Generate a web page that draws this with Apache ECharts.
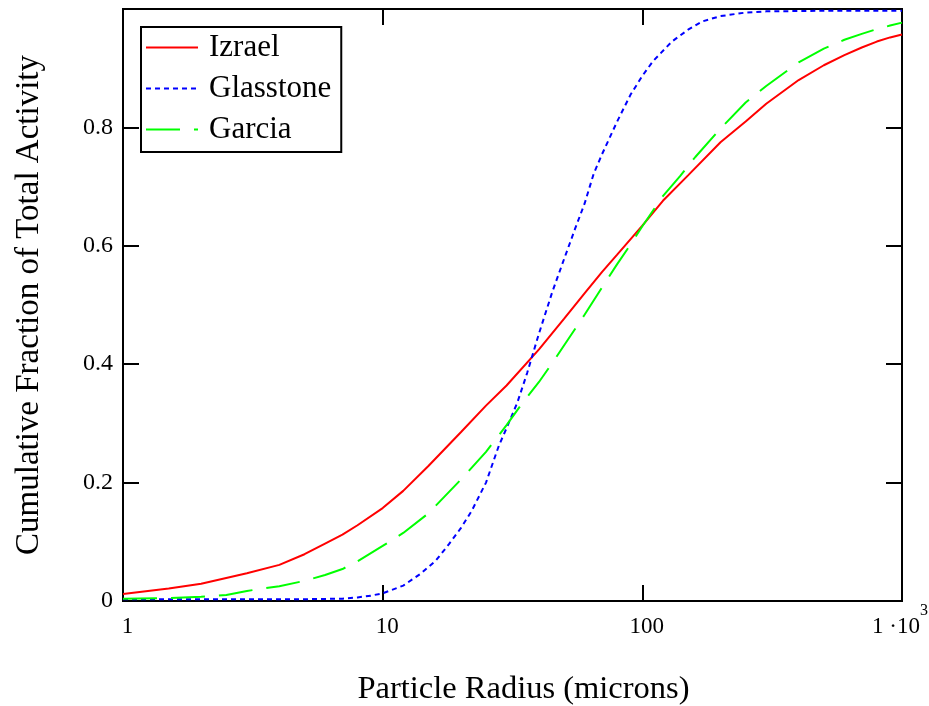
<!DOCTYPE html>
<html>
<head>
<meta charset="utf-8">
<title>Cumulative Fraction of Total Activity</title>
<script src="https://cdn.jsdelivr.net/npm/echarts@6/dist/echarts.min.js"></script>
<style>
  html, body { margin: 0; padding: 0; background: #fff; }
  #chart { width: 929px; height: 706px; }
</style>
</head>
<body>
<div id="chart"></div>
<script>
// particle radius (microns) and cumulative fraction
const izraelR = [1, 1.5, 2, 3, 4, 5, 6, 7, 8, 10, 12, 15, 20, 25, 30, 40, 50, 60, 70, 80, 100, 120, 150, 200, 250, 300, 400, 500, 600, 700, 800, 900, 1000];
const izraelF = [0.012, 0.021, 0.029, 0.047, 0.061, 0.079, 0.097, 0.112, 0.128, 0.157, 0.186, 0.228, 0.285, 0.330, 0.364, 0.425, 0.477, 0.520, 0.556, 0.585, 0.634, 0.676, 0.719, 0.775, 0.810, 0.840, 0.880, 0.905, 0.922, 0.935, 0.945, 0.952, 0.957];

const glasstoneR = [1, 2, 3, 5, 7, 8, 9, 10, 12, 14, 16, 18, 20, 22, 25, 28, 30, 33, 36, 40, 45, 50, 55, 60, 65, 70, 80, 90, 100, 110, 130, 150, 170, 200, 250, 300, 500, 1000];
const glasstoneF = [0.003, 0.003, 0.003, 0.003, 0.004, 0.006, 0.009, 0.013, 0.026, 0.046, 0.068, 0.096, 0.123, 0.152, 0.200, 0.262, 0.292, 0.335, 0.385, 0.452, 0.522, 0.578, 0.628, 0.672, 0.722, 0.755, 0.810, 0.855, 0.887, 0.912, 0.945, 0.965, 0.979, 0.988, 0.994, 0.996, 0.997, 0.997];

const garciaR = [1, 1.5, 2, 2.5, 3, 4, 5, 6, 7, 8, 10, 12, 15, 20, 25, 30, 35, 40, 45, 50, 60, 70, 80, 90, 100, 120, 140, 160, 200, 250, 300, 400, 500, 600, 700, 800, 900, 1000];
const garciaF = [0.004, 0.005, 0.007, 0.010, 0.017, 0.025, 0.034, 0.044, 0.054, 0.067, 0.093, 0.115, 0.148, 0.205, 0.252, 0.297, 0.338, 0.370, 0.402, 0.432, 0.484, 0.530, 0.569, 0.602, 0.633, 0.684, 0.718, 0.750, 0.798, 0.842, 0.870, 0.910, 0.933, 0.948, 0.958, 0.966, 0.972, 0.977];

const seriesNames = ["Izrael", "Glasstone", "Garcia"];
const yTicks = [0, 0.2, 0.4, 0.6, 0.8];

const FONT = "Liberation Serif";

const zip = (xs, ys) => xs.map((x, i) => [x, ys[i]]);

const chart = echarts.init(document.getElementById("chart"));

// x tick labels, 1000 gets the Mathcad style "1·10^3"
const xLabel = (v) => {
    if (Math.abs(v - 1000) < 1e-6) return "{c|1 \u00b710}{b|3}";
    return "{a|" + Math.round(v) + "}";
};

const insideTicks = () => ({ show: true, inside: true, length: 16, lineStyle: { color: "#000", width: 2 } });
const noLine = () => ({ show: false, onZero: false });

const option = {
    animation: false,
    backgroundColor: "#fff",
    textStyle: { fontFamily: FONT, color: "#000" },
    grid: {
        left: 123, right: 27, top: 9, bottom: 105,
        outerBoundsMode: "none",
        show: true, borderColor: "#000", borderWidth: 2
    },
    legend: {
        orient: "vertical",
        left: 141, top: 27,
        data: seriesNames,
        itemWidth: 52, itemHeight: 14, itemGap: 10,
        padding: [5, 10, 7, 4],
        borderColor: "#000", borderWidth: 2,
        backgroundColor: "#fff",
        itemStyle: { opacity: 0 },
        textStyle: { fontFamily: FONT, fontSize: 31, lineHeight: 30, color: "#000", padding: [0, 0, 0, 6] }
    },
    xAxis: [
        {
            type: "log", logBase: 10, min: 1, max: 1000,
            name: "Particle Radius (microns)",
            nameLocation: "middle", nameGap: 72,
            nameTextStyle: { fontFamily: FONT, fontSize: 32.5, color: "#000", padding: [0, 0, 0, 22] },
            axisLine: noLine(),
            axisTick: insideTicks(),
            minorTick: { show: false },
            splitLine: { show: false },
            axisLabel: {
                margin: 8,
                formatter: xLabel,
                rich: {
                    a: { fontFamily: FONT, fontSize: 23, lineHeight: 23, color: "#000", padding: [12, 0, 0, 9] },
                    c: { fontFamily: FONT, fontSize: 23, lineHeight: 23, color: "#000", padding: [12, 0, 0, 0] },
                    b: { fontFamily: FONT, fontSize: 16, lineHeight: 15, color: "#000", padding: [0, 4, 20, 0] }
                }
            }
        },
        {
            // decades 0..3 on a linear axis land on the same spots as 1..1000 on the log axis
            type: "value", min: 0, max: 3, interval: 1, position: "top",
            axisLine: noLine(),
            axisTick: insideTicks(),
            axisLabel: { show: false },
            splitLine: { show: false }
        }
    ],
    yAxis: [
        {
            type: "value", min: 0, max: 1, interval: 0.2,
            name: "Cumulative Fraction of Total Activity",
            nameLocation: "middle", nameGap: 77,
            nameTextStyle: { fontFamily: FONT, fontSize: 33, color: "#000" },
            axisLine: noLine(),
            axisTick: insideTicks(),
            splitLine: { show: false },
            axisLabel: {
                margin: 10,
                padding: [14, 0, 0, 0],
                fontFamily: FONT, fontSize: 24, color: "#000",
                formatter: (v) => (yTicks.some(t => Math.abs(t - v) < 1e-9) ? String(+v.toFixed(1)) : "")
            }
        },
        {
            type: "value", min: 0, max: 1, interval: 0.2, position: "right",
            axisLine: noLine(),
            axisTick: insideTicks(),
            axisLabel: { show: false },
            splitLine: { show: false }
        }
    ],
    series: [
        {
            name: seriesNames[0], type: "line", symbol: "none",
            data: zip(izraelR, izraelF),
            lineStyle: { color: "#ff0000", width: 2, type: "solid" },
            itemStyle: { color: "#ff0000" }
        },
        {
            name: seriesNames[1], type: "line", symbol: "none",
            data: zip(glasstoneR, glasstoneF),
            lineStyle: { color: "#0000ff", width: 2, type: [5, 4] },
            itemStyle: { color: "#0000ff" }
        },
        {
            name: seriesNames[2], type: "line", symbol: "none",
            data: zip(garciaR, garciaF),
            lineStyle: { color: "#00ff00", width: 2, type: [34, 14] },
            itemStyle: { color: "#00ff00" }
        }
    ]
};

chart.setOption(option);
window.addEventListener("resize", () => chart.resize());
</script>
</body>
</html>
